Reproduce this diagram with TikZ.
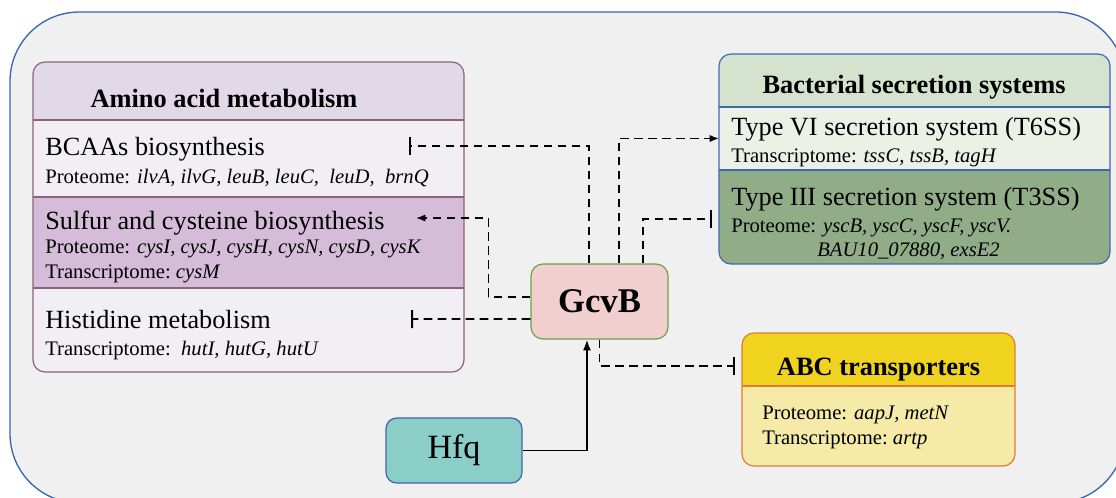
\documentclass[tikz,border=0pt]{standalone}
\usepackage{fontspec}
\setmainfont{Liberation Serif}
\usetikzlibrary{arrows.meta,positioning}

\definecolor{frameblue}{HTML}{3A66B0}
\definecolor{bggray}{HTML}{F0F0F0}
\definecolor{aminoline}{HTML}{8C6479}
\definecolor{aminohead}{HTML}{E2D9E8}
\definecolor{aminolight}{HTML}{F1EFF3}
\definecolor{aminodark}{HTML}{D5BCD9}
\definecolor{secline}{HTML}{3E68B0}
\definecolor{sechead}{HTML}{D5E3CE}
\definecolor{seclight}{HTML}{EBF1E6}
\definecolor{secdark}{HTML}{90AD88}
\definecolor{gcvbfill}{HTML}{F2CFCF}
\definecolor{gcvbline}{HTML}{70A048}
\definecolor{hfqfill}{HTML}{8BCEC8}
\definecolor{hfqline}{HTML}{3A66B0}
\definecolor{abchead}{HTML}{EFD31E}
\definecolor{abcbody}{HTML}{F5EAA8}
\definecolor{abcline}{HTML}{E07A30}

\tikzset{
  band/.style={inner sep=0pt, outer sep=0pt, anchor=north west},
  head/.style={font=\fontsize{19.8}{22}\selectfont\bfseries, inner sep=0pt, anchor=base},
  item/.style={font=\fontsize{19.7}{22}\selectfont, inner sep=0pt, anchor=base west},
  genes/.style={font=\fontsize{15.5}{18}\selectfont, inner sep=0pt, anchor=base west},
  reg/.style={dash pattern=on 6.5pt off 4pt, line width=1.3pt},
  activates/.style={reg, -{Latex[length=7pt, width=5.5pt]}},
  represses/.style={reg, -{Bar[width=13.5pt, line width=1.6pt]}},
}

\begin{document}
\begin{tikzpicture}[x=0.75pt, y=-0.75pt]
\useasboundingbox (0,0) rectangle (1116,497);
\fill[white] (0,0) rectangle (1116,497);
\begin{scope}
\clip (0,0) rectangle (1116,497);
\draw[frameblue, fill=bggray, line width=1pt, rounded corners=52pt] (10,12) rectangle (1125,503);
\end{scope}

% amino acid metabolism
\begin{scope}
\clip[rounded corners=9pt] (33,62) rectangle (464,372);
\node[band, fill=aminohead, minimum width=323.25pt, minimum height=43.5pt] (aminoHead) at (33,62) {};
\node[band, fill=aminolight, minimum width=323.25pt, minimum height=57.75pt] (bcaaRow) at (33,120) {};
\node[band, fill=aminodark, minimum width=323.25pt, minimum height=68.25pt] (sulfurRow) at (33,197) {};
\node[band, fill=aminolight, minimum width=323.25pt, minimum height=63pt] (histRow) at (33,288) {};
\end{scope}
\draw[aminoline, line width=0.9pt, rounded corners=9pt] (33,62) rectangle (464,372);
\draw[aminoline, line width=0.9pt] (bcaaRow.north west) -- (bcaaRow.north east)
  (sulfurRow.north west) -- (sulfurRow.north east) (histRow.north west) -- (histRow.north east);

\node[head] (aminoTitle) at (224,107) {Amino acid metabolism};
\node[item] (bcaaName) at (45,155) {BCAAs biosynthesis};
\node[genes] (bcaaGenes) at (45,183) {Proteome: \textit{ilvA, ilvG, leuB, leuC,\ \ leuD,\ \ brnQ}};
\node[item] (sulfurName) at (45,229) {Sulfur and cysteine biosynthesis};
\node[genes] (sulfurProt) at (45,253) {Proteome: \textit{cysI, cysJ, cysH, cysN, cysD, cysK}};
\node[genes] (sulfurTrans) at (45,278) {Transcriptome:\ \textit{cysM}};
\node[item] (histName) at (45,328) {Histidine metabolism};
\node[genes] (histTrans) at (45,355) {Transcriptome:\ \ \textit{hutI, hutG, hutU}};

% bacterial secretion systems
\begin{scope}
\clip[rounded corners=9pt] (719,54) rectangle (1110,264);
\node[band, fill=sechead, minimum width=293.25pt, minimum height=39.75pt] (secHead) at (719,54) {};
\node[band, fill=seclight, minimum width=293.25pt, minimum height=47.25pt] (t6ssRow) at (719,107) {};
\node[band, fill=secdark, minimum width=293.25pt, minimum height=70.5pt] (t3ssRow) at (719,170) {};
\end{scope}
\draw[secline, line width=0.9pt, rounded corners=9pt] (719,54) rectangle (1110,264);
\draw[secline, line width=0.9pt] (t6ssRow.north west) -- (t6ssRow.north east)
  (t3ssRow.north west) -- (t3ssRow.north east);

\node[head] (secTitle) at (914,93) {Bacterial secretion systems};
\node[item] (t6ssName) at (731,135) {Type VI secretion system (T6SS)};
\node[genes] (t6ssGenes) at (731,162) {Transcriptome: \textit{tssC, tssB, tagH}};
\node[item] (t3ssName) at (731,205) {Type III secretion system (T3SS)};
\node[genes] (t3ssGenes) at (731,232) {Proteome: \textit{yscB, yscC, yscF, yscV.}};
\node[genes] (t3ssMore) at (817,256) {\textit{BAU10\_07880, exsE2}};

% ABC transporters
\begin{scope}
\clip[rounded corners=9pt] (742,333) rectangle (1015,466);
\node[band, fill=abchead, minimum width=204.75pt, minimum height=39.75pt] (abcHead) at (742,333) {};
\node[band, fill=abcbody, minimum width=204.75pt, minimum height=60pt] (abcBody) at (742,386) {};
\end{scope}
\draw[abcline, line width=0.9pt, rounded corners=9pt] (742,333) rectangle (1015,466);
\draw[abcline, line width=0.9pt] (abcBody.north west) -- (abcBody.north east);

\node[head] (abcTitle) at (878.5,375) {ABC transporters};
\node[genes] (abcProt) at (762,419) {Proteome: \textit{aapJ, metN}};
\node[genes] (abcTrans) at (762,444) {Transcriptome:\ \textit{artp}};

% regulators
\node[draw=gcvbline, fill=gcvbfill, line width=0.9pt, rounded corners=9pt,
  minimum width=102.75pt, minimum height=56.25pt, inner sep=0pt,
  font=\fontsize{26}{28}\selectfont\bfseries] (gcvb) at (599.5,301.5) {GcvB};
\node[draw=hfqline, fill=hfqfill, line width=0.9pt, rounded corners=8pt,
  minimum width=102pt, minimum height=48.75pt, inner sep=0pt,
  font=\fontsize{25.5}{28}\selectfont] (hfq) at (454,450.5) {Hfq};

% regulation
\coordinate (bcaaStop) at (409,146);
\coordinate (sulfurTip) at (416,218);
\coordinate (histStop) at (411,319);
\coordinate (t3ssStop) at (712,219);
\coordinate (abcStop) at (735,366);

\draw[represses] ([xshift=-7.9pt]gcvb.north) |- (bcaaStop);
\draw[activates] ([yshift=3.4pt]gcvb.west) -- ++(-42,0) |- (sulfurTip);
\draw[represses] ([yshift=-13.1pt]gcvb.west) -- (histStop);
\draw[activates] ([xshift=14.6pt]gcvb.north) |- (t6ssRow.west);
\draw[represses] ([xshift=32.6pt]gcvb.north) |- (t3ssStop);
\draw[represses] (gcvb.south) |- (abcStop);
\draw[-{Latex[length=8pt, width=6pt]}, line width=1.4pt] (hfq.east) -| ([xshift=-9.4pt]gcvb.south);
\end{tikzpicture}
\end{document}
